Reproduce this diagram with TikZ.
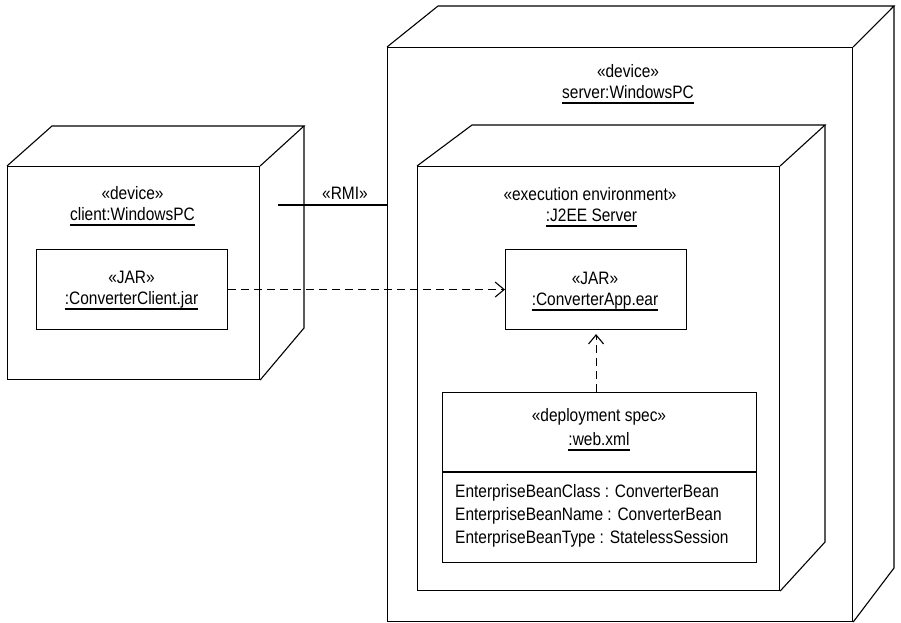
\documentclass[tikz,border=0pt]{standalone}
\usepackage{fontspec}
\setmainfont{Liberation Sans}[FakeStretch=0.86]
\usetikzlibrary{arrows.meta,calc}
\tikzset{
  edge/.style={line width=1.1pt, line join=miter},
  lab/.style={inner sep=0pt, anchor=base, font=\fontsize{18}{20}\selectfont},
  attr/.style={inner sep=0pt, anchor=base west, font=\fontsize{18}{20}\selectfont},
  boxnode/.style={draw, line width=1.1pt, inner sep=0pt, anchor=north west},
  dep/.style={line width=1.1pt, dash pattern=on 8pt off 5pt, -{Straight Barb[length=9pt,width=15pt,line width=1.1pt]}},
  uline/.style={line width=1.1pt}
}
\newcommand{\ulnode}[1]{\draw[uline] ([yshift=-5pt]#1.base west) -- ([yshift=-5pt]#1.base east);}
\begin{document}
\begin{tikzpicture}[x=1pt,y=-1pt]
\useasboundingbox (0,0) rectangle (901,622);

% ---- client cube ----
\node[boxnode, minimum width=252pt, minimum height=213pt] (client) at (7,166) {};
\draw[edge] (client.north west) -- (52,126) -- (304,126) -- (client.north east);
\draw[edge] (304,126) -- (304,328) -- (client.south east);
\node[lab] (clst) at (132.5,199) {«device»};
\node[lab] (clname) at (132.5,220) {client:WindowsPC};
\ulnode{clname}

\node[boxnode, minimum width=191pt, minimum height=80pt] (cjar) at (36,249) {};
\node[lab] (cjst) at (131.5,283) {«JAR»};
\node[lab] (cjname) at (131.5,304) {:ConverterClient.jar};
\ulnode{cjname}

% ---- server cube ----
\node[boxnode, minimum width=465pt, minimum height=574pt] (server) at (387,47) {};
\draw[edge] (server.north west) -- (438,6) -- (894,6) -- (server.north east);
\draw[edge] (894,6) -- (894,568) -- (server.south east);
\node[lab] (svst) at (628,77) {«device»};
\node[lab] (svname) at (628,98) {server:WindowsPC};
\ulnode{svname}

% ---- execution environment ----
\node[boxnode, minimum width=362pt, minimum height=424pt] (exec) at (417,166) {};
\draw[edge] (exec.north west) -- (472,125) -- (825,125) -- (exec.north east);
\draw[edge] (825,125) -- (825,542) -- (exec.south east);
\node[lab] (exst) at (590,200) {«execution environment»};
\node[lab] (exname) at (591.5,221) {:J2EE Server};
\ulnode{exname}

% ---- ConverterApp.ear ----
\node[boxnode, minimum width=181pt, minimum height=80pt] (app) at (505,249) {};
\node[lab] (apst) at (595,284) {«JAR»};
\node[lab] (apname) at (595,305) {:ConverterApp.ear};
\ulnode{apname}

% ---- deployment spec ----
\node[boxnode, minimum width=314pt, minimum height=170pt] (dspec) at (442,392) {};
\draw[edge] (dspec.west |- 0,472) -- (dspec.east |- 0,472);
\node[lab] (dsst) at (599,421) {«deployment spec»};
\node[lab] (dsname) at (599,445) {:web.xml};
\ulnode{dsname}
\node[attr] (a1) at (455,497) {EnterpriseBeanClass : ConverterBean};
\node[attr] (a2) at (455,520) {EnterpriseBeanName : ConverterBean};
\node[attr] (a3) at (455,543) {EnterpriseBeanType : StatelessSession};

% ---- connectors ----
\coordinate (rmiA) at (278,205);
\draw[edge] (rmiA) -- (rmiA -| server.west);
\node[lab] (rmi) at (345,199) {«RMI»};

\draw[dep] (cjar.east) -- (app.west);
\draw[dep, shorten >=4pt] (app.south |- dspec.north) -- (app.south);
\end{tikzpicture}
\end{document}
